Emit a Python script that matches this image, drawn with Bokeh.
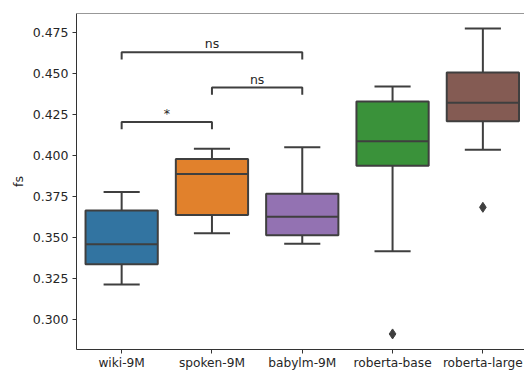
from bokeh.plotting import figure
from bokeh.models import Range1d, FixedTicker, PrintfTickFormatter, Span, ColumnDataSource
from bokeh.embed import file_html
from bokeh.resources import INLINE
from bokeh.core.properties import value

# ---- data ----
categories = ["wiki-9M", "spoken-9M", "babylm-9M", "roberta-base", "roberta-large"]
whisker_low = [0.3213, 0.3525, 0.3462, 0.3416, 0.4036]
q1 = [0.3337, 0.3637, 0.3513, 0.3937, 0.4210]
median = [0.3459, 0.3888, 0.3627, 0.4087, 0.4322]
q3 = [0.3665, 0.3979, 0.3767, 0.4330, 0.4507]
whisker_high = [0.3777, 0.4042, 0.4050, 0.4422, 0.4776]
colors = ["#3274a1", "#e1812c", "#9372b2", "#3a923a", "#845b53"]

outlier_cat = ["roberta-base", "roberta-large"]
outlier_val = [0.2911, 0.3684]

pair_a = ["wiki-9M", "spoken-9M", "wiki-9M"]
pair_b = ["spoken-9M", "babylm-9M", "babylm-9M"]
pair_level = [0.4204, 0.4415, 0.4630]
pair_label = ["*", "ns", "ns"]

y_ticks = [0.300, 0.325, 0.350, 0.375, 0.400, 0.425, 0.450, 0.475]

FONT = "DejaVu Sans"
EDGE = "#3f3f3f"
TXT = "#262626"

idx = {c: i for i, c in enumerate(categories)}
xs = [idx[c] for c in categories]

p = figure(width=524, height=372,
           x_range=Range1d(-0.5, 4.461), y_range=Range1d(0.2816, 0.4867),
           output_backend="svg", toolbar_location=None,
           min_border_left=76, min_border_right=0, min_border_top=13, min_border_bottom=22)
p.background_fill_color = "white"
p.border_fill_color = "white"
p.outline_line_color = None
p.xgrid.visible = False
p.ygrid.visible = False

src = ColumnDataSource(dict(x=xs, lo=whisker_low, q1=q1, med=median, q3=q3, hi=whisker_high,
                            color=colors,
                            xl=[x - 0.2 for x in xs], xr=[x + 0.2 for x in xs],
                            bl=[x - 0.4 for x in xs], br=[x + 0.4 for x in xs]))

# whiskers
p.segment(x0="x", y0="q3", x1="x", y1="hi", source=src, line_color=EDGE, line_width=2)
p.segment(x0="x", y0="lo", x1="x", y1="q1", source=src, line_color=EDGE, line_width=2)
# caps
p.segment(x0="xl", y0="hi", x1="xr", y1="hi", source=src, line_color=EDGE, line_width=2)
p.segment(x0="xl", y0="lo", x1="xr", y1="lo", source=src, line_color=EDGE, line_width=2)
# boxes
p.vbar(x="x", width=0.8, bottom="q1", top="q3", source=src, fill_color="color",
       line_color=EDGE, line_width=2)
# medians
p.segment(x0="bl", y0="med", x1="br", y1="med", source=src, line_color=EDGE, line_width=2)
# outliers
p.scatter([idx[c] for c in outlier_cat], outlier_val, marker="diamond", size=10,
          fill_color=EDGE, line_color=EDGE)

# significance brackets
tick_len = 0.0044
for a, b, lvl, lab in zip(pair_a, pair_b, pair_level, pair_label):
    xa, xb = idx[a], idx[b]
    p.line([xa, xa, xb, xb], [lvl - tick_len, lvl, lvl, lvl - tick_len],
           line_color=EDGE, line_width=2)
    p.text([(xa + xb) / 2], [lvl], text=[lab], text_align="center",
           text_baseline="bottom", y_offset=-1,
           text_font=value(FONT), text_font_size="12.5px", text_color=TXT)

# top spine
p.add_layout(Span(location=0.4867, dimension="width", line_color="#333333", line_width=1))

# axes
p.xaxis.ticker = FixedTicker(ticks=xs)
p.xaxis.major_label_overrides = {i: c for i, c in enumerate(categories)}
p.yaxis.ticker = FixedTicker(ticks=y_ticks)
p.yaxis.formatter = PrintfTickFormatter(format="%.3f")
p.yaxis.axis_label = "fs"
for ax in (p.xaxis[0], p.yaxis[0]):
    ax.axis_line_color = "#333333"
    ax.axis_line_width = 1
    ax.major_tick_line_color = "#333333"
    ax.major_tick_out = 4
    ax.major_tick_in = 0
    ax.minor_tick_line_color = None
    ax.major_label_text_font = FONT
    ax.major_label_text_color = TXT
p.xaxis.major_label_text_font_size = "12.2px"
p.yaxis.major_label_text_font_size = "12.5px"
p.xaxis.major_label_standoff = 2
p.yaxis.major_label_standoff = 4
p.yaxis.axis_label_text_font = FONT
p.yaxis.axis_label_text_font_size = "12.5px"
p.yaxis.axis_label_text_font_style = "normal"
p.yaxis.axis_label_text_color = TXT
p.yaxis.axis_label_standoff = 4

open("out.html", "w").write(file_html(p, INLINE))
